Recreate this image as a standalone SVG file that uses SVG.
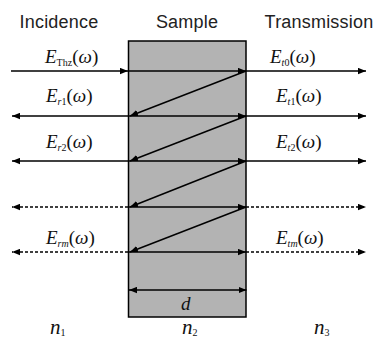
<svg xmlns="http://www.w3.org/2000/svg" width="375" height="338" viewBox="0 0 375 338">
<style>
.h{font-family:"Liberation Sans",Arial,sans-serif;font-size:18px;fill:#222;text-anchor:middle;letter-spacing:0.2px}
.m{font-family:"Liberation Serif","Times New Roman",serif;font-size:19px;fill:#111}
.i{font-style:italic}
.s{font-size:10px}
.ln{stroke:#000;stroke-width:1.5;fill:none}
.ds{stroke:#000;stroke-width:1.4;fill:none;stroke-dasharray:3 2}
</style>
<defs>
<marker id="ah" markerUnits="userSpaceOnUse" markerWidth="9" markerHeight="7" refX="8" refY="3.5" orient="auto">
<path d="M0,0.3 L8,3.5 L0,6.7 Z" fill="#000"/>
</marker>
<marker id="as" markerUnits="userSpaceOnUse" markerWidth="9" markerHeight="7" refX="0" refY="3.5" orient="auto">
<path d="M8,0.3 L0,3.5 L8,6.7 Z" fill="#000"/>
</marker>
</defs>
<g id="headings">
<text class="h" x="59" y="28">Incidence</text>
<text class="h" x="187" y="28">Sample</text>
<text class="h" x="319" y="28">Transmission</text>
</g>
<g id="sample">
<rect x="128.5" y="41" width="117.5" height="276" fill="#b3b3b3" stroke="#000" stroke-width="1.5"/>
</g>
<g id="connectors">
<line class="ln" x1="11" y1="71" x2="128" y2="71" marker-end="url(#ah)"/>
<line class="ln" x1="128" y1="71" x2="246" y2="71" marker-end="url(#ah)"/>
<line class="ln" x1="246" y1="71" x2="366" y2="71" marker-end="url(#ah)"/>
<line class="ln" x1="246" y1="71" x2="130" y2="116" marker-end="url(#ah)"/>
<line class="ln" x1="128" y1="116" x2="12" y2="116" marker-end="url(#ah)"/>
<line class="ln" x1="128" y1="116" x2="246" y2="116" marker-end="url(#ah)"/>
<line class="ln" x1="246" y1="116" x2="366" y2="116" marker-end="url(#ah)"/>
<line class="ln" x1="246" y1="116" x2="130" y2="161" marker-end="url(#ah)"/>
<line class="ln" x1="128" y1="161" x2="12" y2="161" marker-end="url(#ah)"/>
<line class="ln" x1="128" y1="161" x2="246" y2="161" marker-end="url(#ah)"/>
<line class="ln" x1="246" y1="161" x2="366" y2="161" marker-end="url(#ah)"/>
<line class="ln" x1="246" y1="161" x2="130" y2="207" marker-end="url(#ah)"/>
<line class="ds" x1="128" y1="207" x2="12" y2="207" marker-end="url(#ah)"/>
<line class="ln" x1="128" y1="207" x2="246" y2="207" marker-end="url(#ah)"/>
<line class="ds" x1="246" y1="207" x2="366" y2="207" marker-end="url(#ah)"/>
<line class="ln" x1="246" y1="207" x2="130" y2="252" marker-end="url(#ah)"/>
<line class="ds" x1="128" y1="252" x2="12" y2="252" marker-end="url(#ah)"/>
<line class="ln" x1="128" y1="252" x2="246" y2="252" marker-end="url(#ah)"/>
<line class="ds" x1="246" y1="252" x2="366" y2="252" marker-end="url(#ah)"/>
<line class="ln" x1="129" y1="290" x2="246.5" y2="290" marker-start="url(#as)" marker-end="url(#ah)"/>
</g>
<g id="labels">
<text class="m" x="45" y="63"><tspan class="i">E</tspan><tspan class="s" dy="3">Thz</tspan><tspan dy="-3">(</tspan><tspan class="i">ω</tspan>)</text>
<text class="m" x="46" y="102"><tspan class="i">E</tspan><tspan class="s" dy="3"><tspan class="i">r</tspan>1</tspan><tspan dy="-3">(</tspan><tspan class="i">ω</tspan>)</text>
<text class="m" x="46" y="148"><tspan class="i">E</tspan><tspan class="s" dy="3"><tspan class="i">r</tspan>2</tspan><tspan dy="-3">(</tspan><tspan class="i">ω</tspan>)</text>
<text class="m" x="46" y="244"><tspan class="i">E</tspan><tspan class="s i" dy="3">rm</tspan><tspan dy="-3">(</tspan><tspan class="i">ω</tspan>)</text>
<text class="m" x="270" y="63"><tspan class="i">E</tspan><tspan class="s" dy="3"><tspan class="i">t</tspan>0</tspan><tspan dy="-3">(</tspan><tspan class="i">ω</tspan>)</text>
<text class="m" x="276" y="102"><tspan class="i">E</tspan><tspan class="s" dy="3"><tspan class="i">t</tspan>1</tspan><tspan dy="-3">(</tspan><tspan class="i">ω</tspan>)</text>
<text class="m" x="276" y="148"><tspan class="i">E</tspan><tspan class="s" dy="3"><tspan class="i">t</tspan>2</tspan><tspan dy="-3">(</tspan><tspan class="i">ω</tspan>)</text>
<text class="m" x="276" y="244"><tspan class="i">E</tspan><tspan class="s i" dy="3">tm</tspan><tspan dy="-3">(</tspan><tspan class="i">ω</tspan>)</text>
<text class="m i" x="181" y="310" font-size="20">d</text>
<text class="m" x="50" y="334"><tspan class="i" font-size="21">n</tspan><tspan class="s" dy="2">1</tspan></text>
<text class="m" x="182" y="334"><tspan class="i" font-size="21">n</tspan><tspan class="s" dy="2">2</tspan></text>
<text class="m" x="314" y="334"><tspan class="i" font-size="21">n</tspan><tspan class="s" dy="2">3</tspan></text>
</g>
</svg>
